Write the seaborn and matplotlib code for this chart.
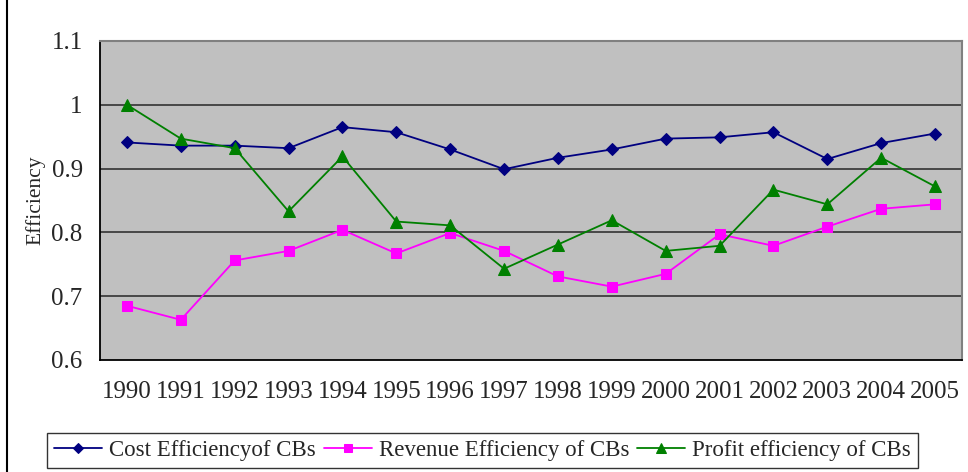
import matplotlib
matplotlib.use("Agg")
import matplotlib.pyplot as plt
import seaborn as sns
import pandas as pd
from matplotlib.lines import Line2D

years = list(range(1990, 2006))
cost = [0.941, 0.936, 0.936, 0.932, 0.965, 0.957, 0.930, 0.899, 0.917, 0.930,
        0.947, 0.949, 0.957, 0.915, 0.940, 0.955]
revenue = [0.685, 0.663, 0.756, 0.771, 0.804, 0.767, 0.799, 0.771, 0.731, 0.715,
           0.735, 0.797, 0.779, 0.809, 0.837, 0.844]
profit = [1.000, 0.947, 0.932, 0.833, 0.919, 0.817, 0.811, 0.743, 0.781, 0.819,
          0.771, 0.779, 0.867, 0.844, 0.917, 0.872]
series_names = ["Cost Efficiencyof CBs", "Revenue Efficiency of CBs", "Profit efficiency of CBs"]
y_ticks = [0.6, 0.7, 0.8, 0.9, 1.0, 1.1]
y_tick_labels = ["0.6", "0.7", "0.8", "0.9", "1", "1.1"]

df = pd.DataFrame({
    "Year": years * 3,
    "Efficiency": cost + revenue + profit,
    "Series": [series_names[0]] * 16 + [series_names[1]] * 16 + [series_names[2]] * 16,
})

sns.set_theme(style="white")
plt.rcParams['font.family'] = ['Liberation Serif', 'DejaVu Serif']

fig = plt.figure(figsize=(9.68, 4.72), dpi=100)
ax = fig.add_axes([100 / 968, 1 - 360 / 472, 862 / 968, 319 / 472])
ax.set_facecolor("#C0C0C0")

palette = {series_names[0]: "#000080", series_names[1]: "#FF00FF", series_names[2]: "#008000"}
markers = {series_names[0]: "D", series_names[1]: "s", series_names[2]: "^"}
sizes = {series_names[0]: 6.5, series_names[1]: 7, series_names[2]: 8.5}

for name in series_names:
    sub = df[df["Series"] == name]
    sns.lineplot(data=sub, x="Year", y="Efficiency", ax=ax, color=palette[name],
                 marker=markers[name], markersize=sizes[name], markeredgecolor=palette[name],
                 linewidth=1.3, label=name, legend=False, zorder=3)

ax.set_ylim(0.6, 1.1)
ax.set_xlim(years[0] - 0.5, years[-1] + 0.5)
ax.set_yticks(y_ticks)
ax.set_yticklabels(y_tick_labels, fontsize=18)
for y in y_ticks[1:-1]:
    ax.axhline(y, color="#333333", linewidth=1.2, zorder=1)

ax.set_xticks(years)
ax.set_xticklabels([str(y) for y in years], fontsize=18)
ax.set_xticks([y + 0.5 for y in [years[0] - 1] + years], minor=True)
ax.tick_params(axis="x", which="major", length=0, pad=15)
ax.tick_params(axis="x", which="minor", length=4.5, width=1, color="black", direction="out")
ax.tick_params(axis="y", which="major", length=4.5, width=1, color="black", direction="out", pad=8)
ax.set_xlabel("")
ax.set_ylabel("Efficiency", fontsize=15.5, labelpad=4)

for side in ["left", "bottom"]:
    ax.spines[side].set_color("black")
    ax.spines[side].set_linewidth(1.3)
for side in ["top", "right"]:
    ax.spines[side].set_color("#808080")
    ax.spines[side].set_linewidth(1.5)

handles, labels = ax.get_legend_handles_labels()
leg = fig.legend(handles, labels, loc="lower left", bbox_to_anchor=(47 / 968, 4 / 472),
                 ncol=3, fontsize=16.5, frameon=True, fancybox=False, edgecolor="black",
                 handlelength=2.1, handletextpad=0.3, columnspacing=0.35, borderpad=0.3,
                 borderaxespad=0.0, markerscale=0.8)
leg.get_frame().set_linewidth(1.0)

fig.add_artist(Line2D([7 / 968, 7 / 968], [0, 1], transform=fig.transFigure,
                      color="black", linewidth=1.5))

fig.savefig("out.png", dpi=100)
